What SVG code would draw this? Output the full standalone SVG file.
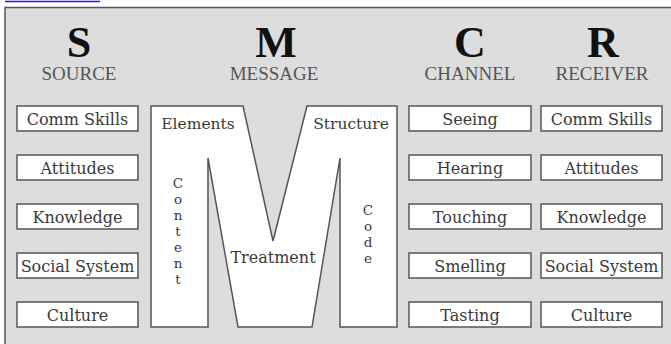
<svg xmlns="http://www.w3.org/2000/svg" width="671" height="344" viewBox="0 0 671 344">
<style>
.frame{fill:#dddddd;stroke:#555;stroke-width:1.5}
.box{fill:#fff;stroke:#555;stroke-width:1.5}
.mshape{fill:#fff;stroke:#555;stroke-width:1.5;stroke-linejoin:miter}
.big{font-family:"Liberation Serif",serif;font-weight:bold;font-size:44px;fill:#111;text-anchor:middle}
.head{font-family:"Liberation Serif",serif;font-size:19px;fill:#555;text-anchor:middle}
.t{font-family:"DejaVu Serif","Liberation Serif",serif;font-size:16px;fill:#3a3a3a;text-anchor:middle}
.ts{font-family:"DejaVu Serif","Liberation Serif",serif;font-size:15.5px;fill:#3a3a3a;text-anchor:middle}
.v{font-family:"DejaVu Serif","Liberation Serif",serif;font-size:13.5px;fill:#3a3a3a;text-anchor:middle}
</style>
<rect x="0" y="0" width="671" height="344" fill="#fff"/>
<line x1="5" y1="1.5" x2="100" y2="1.5" stroke="#1a1aee" stroke-width="1.5"/>
<rect class="frame" x="5" y="7.5" width="680" height="350"/>

<g id="headers">
<text class="big" x="79" y="57">S</text>
<text class="head" x="79" y="80">SOURCE</text>
<text class="big" x="276" y="57">M</text>
<text class="head" x="274" y="80">MESSAGE</text>
<text class="big" x="470" y="57">C</text>
<text class="head" x="470" y="80">CHANNEL</text>
<text class="big" x="603" y="57">R</text>
<text class="head" x="602" y="80">RECEIVER</text>
</g>

<g id="source">
<g id="s1"><rect class="box" x="17" y="106" width="121" height="25"/><text class="t" x="77.5" y="124.5">Comm Skills</text></g>
<g id="s2"><rect class="box" x="17" y="155" width="121" height="25"/><text class="t" x="77.5" y="173.5">Attitudes</text></g>
<g id="s3"><rect class="box" x="17" y="204" width="121" height="25"/><text class="t" x="77.5" y="222.5">Knowledge</text></g>
<g id="s4"><rect class="box" x="17" y="253" width="121" height="25"/><text class="t" x="77.5" y="271.5">Social System</text></g>
<g id="s5"><rect class="box" x="17" y="302" width="121" height="25"/><text class="t" x="77.5" y="320.5">Culture</text></g>
</g>

<g id="message">
<path class="mshape" d="M151,106 L243,106 L273,241 L307,106 L397,106 L397,327 L340,327 L340,158 L312,327 L238,327 L208,158 L208,327 L151,327 Z"/>
<text class="ts" x="198" y="129">Elements</text>
<text class="ts" x="351" y="129">Structure</text>
<text class="t" x="273" y="263">Treatment</text>
<text class="v" x="178" y="188">C</text>
<text class="v" x="178" y="204">o</text>
<text class="v" x="178" y="220">n</text>
<text class="v" x="178" y="236">t</text>
<text class="v" x="178" y="252">e</text>
<text class="v" x="178" y="268">n</text>
<text class="v" x="178" y="284">t</text>
<text class="v" x="368" y="215">C</text>
<text class="v" x="368" y="231">o</text>
<text class="v" x="368" y="247">d</text>
<text class="v" x="368" y="263">e</text>
</g>

<g id="channel">
<g id="c1"><rect class="box" x="409" y="106" width="122" height="25"/><text class="t" x="470" y="124.5">Seeing</text></g>
<g id="c2"><rect class="box" x="409" y="155" width="122" height="25"/><text class="t" x="470" y="173.5">Hearing</text></g>
<g id="c3"><rect class="box" x="409" y="204" width="122" height="25"/><text class="t" x="470" y="222.5">Touching</text></g>
<g id="c4"><rect class="box" x="409" y="253" width="122" height="25"/><text class="t" x="470" y="271.5">Smelling</text></g>
<g id="c5"><rect class="box" x="409" y="302" width="122" height="25"/><text class="t" x="470" y="320.5">Tasting</text></g>
</g>

<g id="receiver">
<g id="r1"><rect class="box" x="541" y="106" width="121" height="25"/><text class="t" x="601.5" y="124.5">Comm Skills</text></g>
<g id="r2"><rect class="box" x="541" y="155" width="121" height="25"/><text class="t" x="601.5" y="173.5">Attitudes</text></g>
<g id="r3"><rect class="box" x="541" y="204" width="121" height="25"/><text class="t" x="601.5" y="222.5">Knowledge</text></g>
<g id="r4"><rect class="box" x="541" y="253" width="121" height="25"/><text class="t" x="601.5" y="271.5">Social System</text></g>
<g id="r5"><rect class="box" x="541" y="302" width="121" height="25"/><text class="t" x="601.5" y="320.5">Culture</text></g>
</g>
<g id="connectors"/>
</svg>
